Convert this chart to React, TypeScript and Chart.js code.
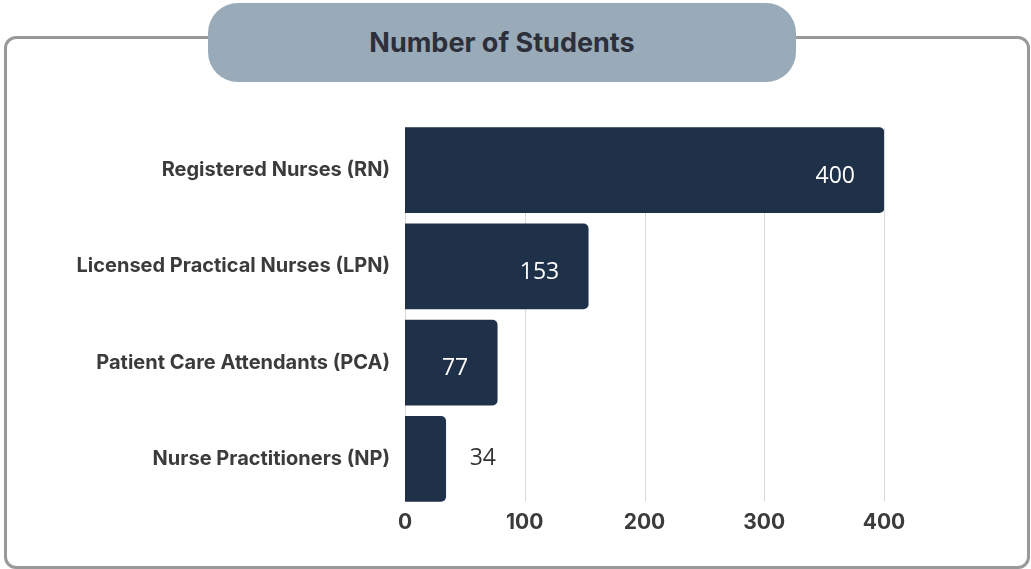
import React, { useEffect, useRef } from "react";
import { Chart, registerables } from "chart.js";

Chart.register(...registerables);

const categories = [
  "Registered Nurses (RN)",
  "Licensed Practical Nurses (LPN)",
  "Patient Care Attendants (PCA)",
  "Nurse Practitioners (NP)",
];
const students = [400, 153, 77, 34];
const xTicks = [0, 100, 200, 300, 400];
const titleText = "Number of Students";

const BAR = "#1f3149";
const LABEL = "#3b3b3b";
const FONT = "Inter";

const gridPlugin = {
  id: "clippedGrid",
  beforeDatasetsDraw(chart: any) {
    const meta = chart.getDatasetMeta(0);
    const els = meta.data;
    if (!els.length) return;
    const first = els[0];
    const last = els[els.length - 1];
    const top = first.y - first.height / 2;
    const bottom = last.y + last.height / 2;
    const x = chart.scales.x;
    const ctx = chart.ctx;
    ctx.save();
    ctx.strokeStyle = "#d9d9d9";
    ctx.lineWidth = 1;
    xTicks.forEach((v) => {
      const px = Math.round(x.getPixelForValue(v)) + 0.5;
      ctx.beginPath();
      ctx.moveTo(px, top);
      ctx.lineTo(px, bottom);
      ctx.stroke();
    });
    ctx.restore();
  },
};

const valuePlugin = {
  id: "valueLabels",
  afterDatasetsDraw(chart: any) {
    const meta = chart.getDatasetMeta(0);
    const ctx = chart.ctx;
    const x = chart.scales.x;
    ctx.save();
    ctx.font = "23px 'Open Sans'";
    ctx.textBaseline = "middle";
    meta.data.forEach((el: any, i: number) => {
      const v = students[i];
      const txt = String(v);
      const w = ctx.measureText(txt).width;
      const start = x.getPixelForValue(0);
      if (el.x - start > w + 50) {
        ctx.fillStyle = "#ffffff";
        ctx.textAlign = "right";
        ctx.fillText(txt, el.x - 29, el.y + 6);
      } else {
        ctx.fillStyle = "#333333";
        ctx.textAlign = "left";
        ctx.fillText(txt, el.x + 24, el.y);
      }
    });
    ctx.restore();
  },
};

export default function App() {
  const ref = useRef<HTMLCanvasElement | null>(null);

  useEffect(() => {
    if (!ref.current) return;
    const chart = new Chart(ref.current, {
      type: "bar",
      data: {
        labels: categories,
        datasets: [
          {
            data: students,
            backgroundColor: BAR,
            barThickness: 85,
            borderRadius: { topLeft: 0, bottomLeft: 0, topRight: 5, bottomRight: 5 },
            borderSkipped: false,
          },
        ],
      },
      options: {
        indexAxis: "y",
        animation: false,
        responsive: false,
        maintainAspectRatio: false,
        layout: { padding: { top: 122, right: 147, bottom: 0, left: 0 } },
        plugins: {
          legend: { display: false },
          tooltip: { enabled: false },
          title: { display: false },
        },
        scales: {
          x: {
            min: 0,
            max: 400,
            afterFit: (s: any) => {
              s.height = 62;
            },
            grid: { display: false, drawTicks: false },
            border: { display: false },
            ticks: {
              stepSize: 100,
              padding: 3,
              color: LABEL,
              font: { family: FONT, size: 21, weight: "bold" },
            },
          },
          y: {
            afterFit: (s: any) => {
              s.width = 405;
            },
            grid: { display: false, drawTicks: false },
            border: { display: false },
            ticks: {
              padding: 15,
              color: LABEL,
              font: { family: FONT, size: 20, weight: "bold" },
            },
          },
        },
      },
      plugins: [gridPlugin, valuePlugin],
    });
    return () => chart.destroy();
  }, []);

  return (
    <div style={{ position: "absolute", left: 0, top: 0, width: 1031, height: 569, background: "#ffffff", overflow: "hidden" }}>
      <div
        style={{
          position: "absolute",
          left: 4,
          top: 36,
          width: 1030 - 4,
          height: 569 - 36,
          border: "3px solid #999999",
          borderRadius: 12,
          boxSizing: "border-box",
        }}
      />
      <canvas
        ref={ref}
        width={1031}
        height={569}
        style={{ position: "absolute", left: 0, top: 0, width: 1031, height: 569 }}
      />
      <div
        style={{
          position: "absolute",
          left: 208,
          top: 3,
          width: 796 - 208,
          height: 79,
          background: "#99abb9",
          borderRadius: 30,
          display: "flex",
          alignItems: "center",
          justifyContent: "center",
          fontFamily: "Inter, sans-serif",
          fontWeight: 700,
          fontSize: 27,
          color: "#2d2f3b",
        }}
      >
        <span style={{ marginTop: 0 }}>{titleText}</span>
      </div>
    </div>
  );
}
